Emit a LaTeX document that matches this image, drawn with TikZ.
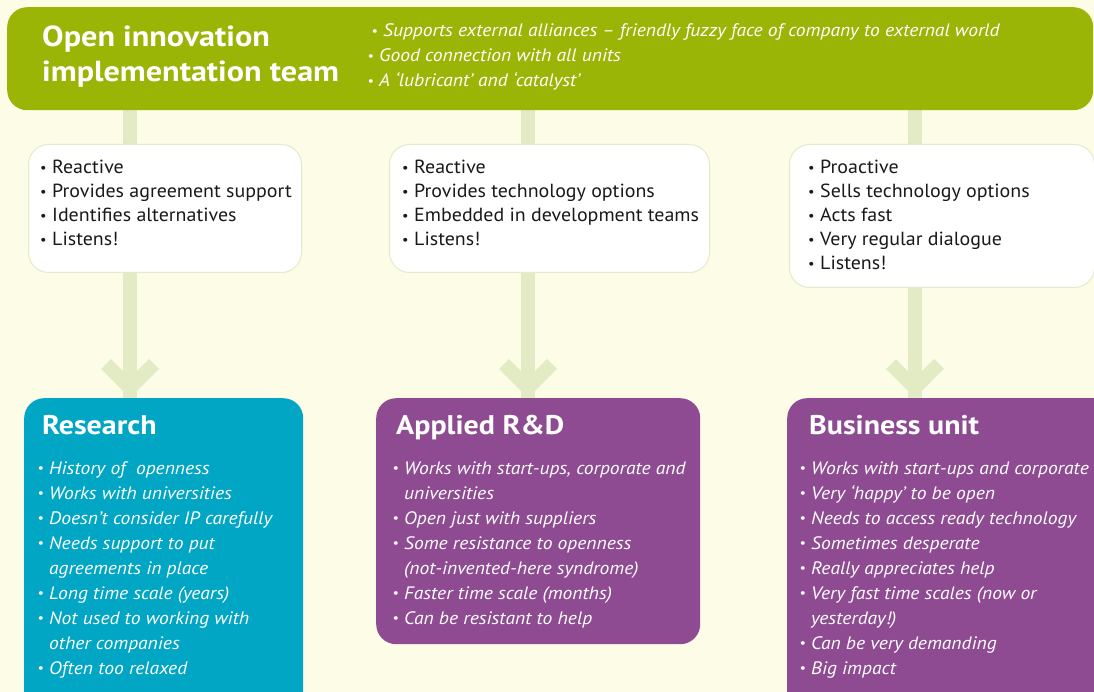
\documentclass[tikz,border=0pt]{standalone}
\usepackage{fontspec}
\setmainfont{PT Sans}[FakeStretch=1.05]
\newfontfamily\itfam{PT Sans}[FakeStretch=1.085]
\newfontfamily\bffam{PT Sans}[FakeStretch=1.11]
\usetikzlibrary{calc}
\definecolor{bgc}{RGB}{253,252,230}
\definecolor{topgreen}{RGB}{154,181,6}
\definecolor{barc}{RGB}{226,235,196}
\definecolor{wborder}{RGB}{228,234,204}
\definecolor{tealc}{RGB}{0,166,196}
\definecolor{purp}{RGB}{142,75,146}
\definecolor{dark}{RGB}{25,25,25}
\pgfdeclarelayer{bg}
\pgfsetlayers{bg,main}
\newcommand\bul{\llap{\raisebox{0.08em}{\scalebox{0.72}{•}}\hspace{0.3em}}}
\begin{document}
\begin{tikzpicture}[x=1pt,y=-1pt,
  box/.style={rounded corners=20pt, inner sep=0pt, anchor=north west},
  wbox/.style={box, fill=white, draw=wborder, line width=1pt},
  bar/.style={draw=barc, line width=14pt},
  chev/.style={bar, line join=miter},
  ttl/.style={anchor=base west, inner sep=0pt, text=white, font=\bffam\bfseries\fontsize{29}{35}\selectfont},
  utl/.style={anchor=base west, inner sep=0pt, text=white, font=\bffam\bfseries\fontsize{27}{32}\selectfont},
  wit/.style={anchor=base west, inner sep=0pt, text=white, font=\itfam\itshape\fontsize{18}{25}\selectfont},
  txt/.style={anchor=base west, inner sep=0pt, text=dark, font=\fontsize{19}{24}\selectfont}]
\useasboundingbox (0,0) rectangle (1094,692);
\begin{pgfonlayer}{bg}
\fill[bgc] (0,0) rectangle (1094,692);
\end{pgfonlayer}
\clip (0,0) rectangle (1094,692);

% top bar
\node[box, fill=topgreen, minimum width=1086pt, minimum height=103pt] (top) at (7,7) {};
\node[ttl] (t1) at (42,47) {Open innovation};
\node[ttl] (t2) at (42,82) {implementation team};
\node[wit] (tb1) at (383,37) {\bul Supports external alliances – friendly fuzzy face of company to external world};
\node[wit] (tb2) at (379,62) {\bul Good connection with all units};
\node[wit] (tb3) at (379,87) {\bul A ‘lubricant’ and ‘catalyst’};

% middle boxes
\node[wbox, minimum width=273pt, minimum height=128pt] (m1) at (28,144) {};
\node[wbox, minimum width=320pt, minimum height=128pt] (m2) at (389,144) {};
\node[wbox, minimum width=305pt, minimum height=143pt] (m3) at (789,144) {};

\node[txt] (m1a) at (52,174) {\bul Reactive};
\node[txt] (m1b) at (52,198) {\bul Provides agreement support};
\node[txt] (m1c) at (52,222) {\bul Identifies alternatives};
\node[txt] (m1d) at (52,246) {\bul Listens!};

\node[txt] (m2a) at (414,174) {\bul Reactive};
\node[txt] (m2b) at (414,198) {\bul Provides technology options};
\node[txt] (m2c) at (414,222) {\bul Embedded in development teams};
\node[txt] (m2d) at (414,246) {\bul Listens!};

\node[txt] (m3a) at (820,174) {\bul Proactive};
\node[txt] (m3b) at (820,198) {\bul Sells technology options};
\node[txt] (m3c) at (820,222) {\bul Acts fast};
\node[txt] (m3d) at (820,246) {\bul Very regular dialogue};
\node[txt] (m3e) at (820,270) {\bul Listens!};

% bottom boxes
\node[box, fill=tealc, minimum width=279pt, minimum height=320pt] (res) at (24,398) {};
\node[box, fill=purp, minimum width=324pt, minimum height=246pt] (app) at (376,398) {};
\node[box, fill=purp, minimum width=340pt, minimum height=320pt] (bus) at (787,398) {};

\node[utl] (rt) at (42,434) {Research};
\node[wit] (r1) at (49,474) {\bul History of \ openness};
\node[wit] (r2) at (49,499) {\bul Works with universities};
\node[wit] (r3) at (49,524) {\bul Doesn’t consider IP carefully};
\node[wit] (r4) at (49,549) {\bul Needs support to put};
\node[wit] (r5) at (49,574) {agreements in place};
\node[wit] (r6) at (49,599) {\bul Long time scale (years)};
\node[wit] (r7) at (49,624) {\bul Not used to working with};
\node[wit] (r8) at (49,649) {other companies};
\node[wit] (r9) at (49,674) {\bul Often too relaxed};

\node[utl] (at) at (396,434) {Applied R\&D};
\node[wit] (a1) at (404,474) {\bul Works with start-ups, corporate and};
\node[wit] (a2) at (404,499) {universities};
\node[wit] (a3) at (404,524) {\bul Open just with suppliers};
\node[wit] (a4) at (404,549) {\bul Some resistance to openness};
\node[wit] (a5) at (404,574) {(not-invented-here syndrome)};
\node[wit] (a6) at (404,599) {\bul Faster time scale (months)};
\node[wit] (a7) at (404,624) {\bul Can be resistant to help};

\node[utl] (bt) at (809,434) {Business unit};
\node[wit] (b1) at (811,474) {\bul Works with start-ups and corporate};
\node[wit] (b2) at (811,499) {\bul Very ‘happy’ to be open};
\node[wit] (b3) at (811,524) {\bul Needs to access ready technology};
\node[wit] (b4) at (811,549) {\bul Sometimes desperate};
\node[wit] (b5) at (811,574) {\bul Really appreciates help};
\node[wit] (b6) at (811,599) {\bul Very fast time scales (now or};
\node[wit] (b7) at (811,624) {yesterday!)};
\node[wit] (b8) at (811,649) {\bul Can be very demanding};
\node[wit] (b9) at (811,674) {\bul Big impact};

% connectors (behind boxes)
\coordinate (p1) at (130,388);
\coordinate (p2) at (528,388);
\coordinate (p3) at (915,388);
\begin{pgfonlayer}{bg}
\foreach \p/\u in {p1/res,p2/app,p3/bus}{
  \draw[bar] (top.south -| \p) -- (\p |- \u.north) ;
  \draw[chev] ($(\p)+(-24,-24)$) -- (\p) -- ($(\p)+(24,-24)$);
}
\end{pgfonlayer}
\end{tikzpicture}
\end{document}
